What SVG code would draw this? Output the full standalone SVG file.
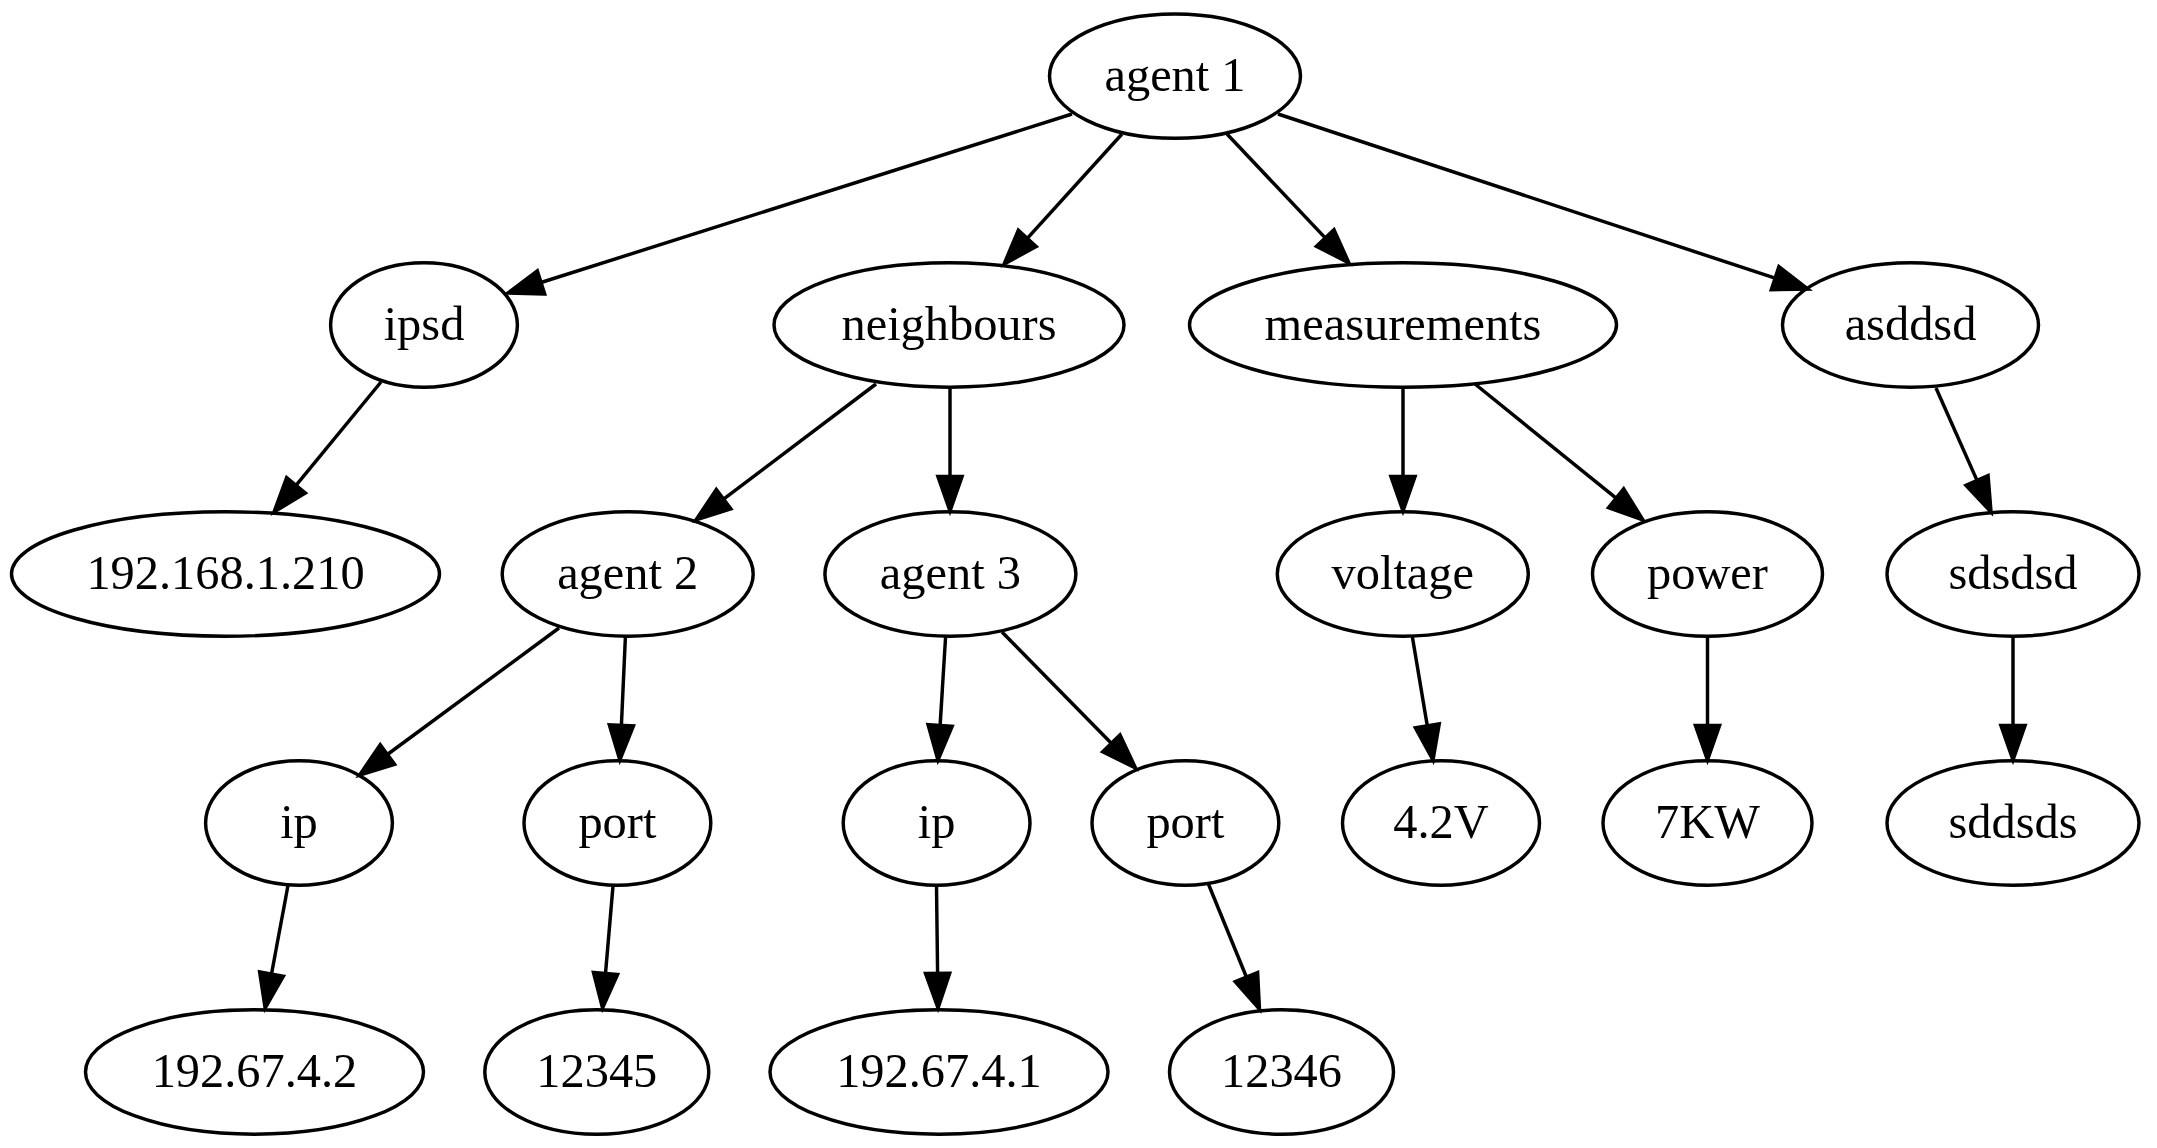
<svg xmlns="http://www.w3.org/2000/svg" width="2157" height="1148" viewBox="0 0 2157 1148">
<style>
.n ellipse{fill:none;stroke:#000;stroke-width:3.46}
.n text{font-family:"Liberation Serif","Times New Roman",serif;font-size:48.4px;text-anchor:middle;fill:#000}
.e line{stroke:#000;stroke-width:3.46;fill:none}
</style>
<defs>
<marker id="ah" markerUnits="userSpaceOnUse" markerWidth="60" markerHeight="40" viewBox="-6 -20 50 40" refX="0" refY="0" orient="auto" overflow="visible">
<path d="M0,-12.1 L34.6,0 L0,12.1 Z" fill="#000" stroke="#000" stroke-width="3.46"/>
</marker>
</defs>
<rect width="2157" height="1148" fill="#fff"/>
<g id="edges" class="e">
<line x1="1072" y1="114" x2="541" y2="282.5" marker-end="url(#ah)"/>
<line x1="1122" y1="134" x2="1027.3" y2="238.4" marker-end="url(#ah)"/>
<line x1="1227" y1="134" x2="1325.2" y2="237.9" marker-end="url(#ah)"/>
<line x1="1278" y1="114" x2="1775.1" y2="278.2" marker-end="url(#ah)"/>
<line x1="381" y1="382" x2="296" y2="485.3" marker-end="url(#ah)"/>
<line x1="876" y1="384" x2="723.6" y2="499.1" marker-end="url(#ah)"/>
<line x1="950" y1="388" x2="950" y2="476.4" marker-end="url(#ah)"/>
<line x1="1403" y1="388" x2="1403" y2="476.4" marker-end="url(#ah)"/>
<line x1="1475" y1="384" x2="1616.1" y2="498.2" marker-end="url(#ah)"/>
<line x1="1936" y1="388" x2="1977" y2="480.4" marker-end="url(#ah)"/>
<line x1="559" y1="628" x2="387.4" y2="754.5" marker-end="url(#ah)"/>
<line x1="625.4" y1="637" x2="621.4" y2="725.4" marker-end="url(#ah)"/>
<line x1="945.6" y1="637" x2="940.1" y2="725.5" marker-end="url(#ah)"/>
<line x1="1002" y1="632" x2="1111.3" y2="743.3" marker-end="url(#ah)"/>
<line x1="1412.4" y1="637" x2="1427.3" y2="725.9" marker-end="url(#ah)"/>
<line x1="1707.5" y1="637" x2="1707.5" y2="725.4" marker-end="url(#ah)"/>
<line x1="2013" y1="637" x2="2013" y2="725.4" marker-end="url(#ah)"/>
<line x1="287.9" y1="886" x2="271.5" y2="974" marker-end="url(#ah)"/>
<line x1="613" y1="886" x2="605.5" y2="973.5" marker-end="url(#ah)"/>
<line x1="936.5" y1="886" x2="937.6" y2="973.4" marker-end="url(#ah)"/>
<line x1="1208" y1="883" x2="1246.4" y2="977" marker-end="url(#ah)"/>
</g>
<g id="agent1" class="n"><ellipse cx="1175" cy="76.1" rx="125.5" ry="62.2"/><text x="1175" y="91">agent 1</text></g>
<g id="ipsd" class="n"><ellipse cx="424" cy="325" rx="93.4" ry="62.2"/><text x="424" y="340">ipsd</text></g>
<g id="neighbours" class="n"><ellipse cx="949" cy="325" rx="175" ry="62.2"/><text x="949" y="340">neighbours</text></g>
<g id="measurements" class="n"><ellipse cx="1403" cy="325" rx="213.5" ry="62.2"/><text x="1403" y="340">measurements</text></g>
<g id="asddsd" class="n"><ellipse cx="1910.5" cy="325" rx="128" ry="62.2"/><text x="1910.5" y="340">asddsd</text></g>
<g id="ip192_168_1_210" class="n"><ellipse cx="225.5" cy="574" rx="214" ry="62.2"/><text x="225.5" y="589">192.168.1.210</text></g>
<g id="agent2" class="n"><ellipse cx="627.7" cy="574" rx="125.5" ry="62.2"/><text x="627.7" y="589">agent 2</text></g>
<g id="agent3" class="n"><ellipse cx="950.4" cy="574" rx="125.5" ry="62.2"/><text x="950.4" y="589">agent 3</text></g>
<g id="voltage" class="n"><ellipse cx="1402.8" cy="574" rx="125.5" ry="62.2"/><text x="1402.8" y="589">voltage</text></g>
<g id="power" class="n"><ellipse cx="1707.5" cy="574" rx="115" ry="62.2"/><text x="1707.5" y="589">power</text></g>
<g id="sdsdsd" class="n"><ellipse cx="2013" cy="574" rx="126" ry="62.2"/><text x="2013" y="589">sdsdsd</text></g>
<g id="ip_a2" class="n"><ellipse cx="299" cy="823" rx="93.4" ry="62.2"/><text x="299" y="838">ip</text></g>
<g id="port_a2" class="n"><ellipse cx="617.4" cy="823" rx="93.4" ry="62.2"/><text x="617.4" y="838">port</text></g>
<g id="ip_a3" class="n"><ellipse cx="936.6" cy="823" rx="93.4" ry="62.2"/><text x="936.6" y="838">ip</text></g>
<g id="port_a3" class="n"><ellipse cx="1185.4" cy="823" rx="93.4" ry="62.2"/><text x="1185.4" y="838">port</text></g>
<g id="v4_2V" class="n"><ellipse cx="1441" cy="823" rx="98.5" ry="62.2"/><text x="1441" y="838">4.2V</text></g>
<g id="p7KW" class="n"><ellipse cx="1707.5" cy="823" rx="104.5" ry="62.2"/><text x="1707.5" y="838">7KW</text></g>
<g id="sddsds" class="n"><ellipse cx="2013" cy="823" rx="126" ry="62.2"/><text x="2013" y="838">sddsds</text></g>
<g id="ip192_67_4_2" class="n"><ellipse cx="254.5" cy="1072" rx="169" ry="62.2"/><text x="254.5" y="1087">192.67.4.2</text></g>
<g id="n12345" class="n"><ellipse cx="596.8" cy="1072" rx="112" ry="62.2"/><text x="596.8" y="1087">12345</text></g>
<g id="ip192_67_4_1" class="n"><ellipse cx="939" cy="1072" rx="169" ry="62.2"/><text x="939" y="1087">192.67.4.1</text></g>
<g id="n12346" class="n"><ellipse cx="1281.5" cy="1072" rx="112" ry="62.2"/><text x="1281.5" y="1087">12346</text></g>
</svg>
